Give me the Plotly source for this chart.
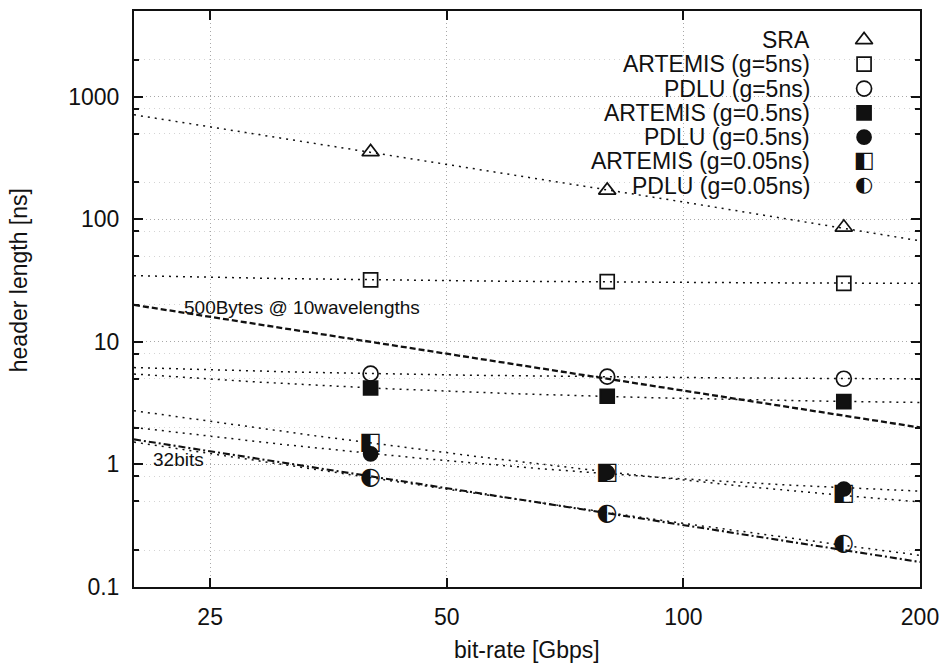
import numpy as np
import plotly.graph_objects as go

# ---------------- data ----------------
bitrate = [40, 80, 160]                     # Gbps
sra = [354, 172, 86]
artemis_g5 = [32, 31, 30]
pdlu_g5 = [5.5, 5.2, 5.0]
artemis_g05 = [4.2, 3.6, 3.25]
pdlu_g05 = [1.22, 0.86, 0.63]
artemis_g005 = [1.5, 0.85, 0.57]
pdlu_g005 = [0.78, 0.395, 0.225]

series_names = ["SRA", "ARTEMIS (g=5ns)", "PDLU (g=5ns)", "ARTEMIS (g=0.5ns)",
                "PDLU (g=0.5ns)", "ARTEMIS (g=0.05ns)", "PDLU (g=0.05ns)"]
series_values = [sra, artemis_g5, pdlu_g5, artemis_g05, pdlu_g05, artemis_g005, pdlu_g005]

ref_x = [20, 200]
ref_500bytes = [20, 2]      # 500Bytes @ 10wavelengths
ref_32bits = [1.6, 0.16]    # 32bits

x_range = [20, 200]
y_range = [0.1, 5000]
x_ticks = [25, 50, 100, 200]
y_ticks = [0.1, 1, 10, 100, 1000]
y_minor = [0.2, 0.5, 0.8, 2, 5, 8, 20, 50, 80, 200, 500, 800, 2000]

FONT = "Liberation Sans, Arial, sans-serif"
BLACK = "#111111"

# marker styles: (kind, symbol/text, size on plot, size in key)
styles = [
    ("marker", "triangle-up-open", 15, 15),
    ("marker", "square-open", 14, 14),
    ("marker", "circle-open", 15, 15),
    ("marker", "square", 14, 14),
    ("marker", "circle", 14, 14),
    ("text", "\u25e7", 24, 22),
    ("text", "\u25d0", 24, 21),
]

fig = go.Figure()

# fitted curves (least squares a + b/x on each series)
xs = np.geomspace(x_range[0], x_range[1], 120)
xarr = np.array(bitrate, dtype=float)
for vals in series_values:
    A = np.vstack([np.ones_like(xarr), 1.0 / xarr]).T
    coef, *_ = np.linalg.lstsq(A, np.array(vals, dtype=float), rcond=None)
    ys = coef[0] + coef[1] / xs
    fig.add_trace(go.Scatter(x=xs, y=ys, mode="lines", showlegend=False, hoverinfo="skip",
                             line=dict(color=BLACK, width=1.5, dash="2px,5px")))

# reference lines
fig.add_trace(go.Scatter(x=ref_x, y=ref_500bytes, mode="lines", showlegend=False,
                         line=dict(color=BLACK, width=2.3, dash="6px,3px")))
fig.add_trace(go.Scatter(x=ref_x, y=ref_32bits, mode="lines", showlegend=False,
                         line=dict(color=BLACK, width=2.1, dash="7px,3px,2px,3px")))

# data points
for name, vals, (kind, sym, size, _) in zip(series_names, series_values, styles):
    if kind == "marker":
        fig.add_trace(go.Scatter(x=bitrate, y=vals, mode="markers", name=name, showlegend=False,
                                 marker=dict(symbol=sym, size=size, color=BLACK,
                                             line=dict(color=BLACK, width=1.7))))
    else:
        fig.add_trace(go.Scatter(x=bitrate, y=vals, mode="text", name=name, showlegend=False,
                                 text=[sym] * len(vals), textposition="middle center",
                                 textfont=dict(family="DejaVu Sans", size=size, color=BLACK)))

# manual legend (text right-aligned, key symbols on the right) on an overlay axis
leg_top_px, leg_step_px = 38, 24.4
plot_top, plot_bottom, plot_left, plot_right = 9, 587, 134, 921
ph = plot_bottom - plot_top
pw = plot_right - plot_left
leg_y = [(plot_bottom - (leg_top_px + i * leg_step_px)) / ph for i in range(len(series_names))]
key_x = (865 - plot_left) / pw
text_x = (813 - plot_left) / pw
for i, (name, (kind, sym, _, ksize)) in enumerate(zip(series_names, styles)):
    if kind == "marker":
        fig.add_trace(go.Scatter(x=[key_x], y=[leg_y[i]], xaxis="x2", yaxis="y2", mode="markers",
                                 showlegend=False, hoverinfo="skip",
                                 marker=dict(symbol=sym, size=ksize, color=BLACK,
                                             line=dict(color=BLACK, width=1.7))))
    else:
        fig.add_trace(go.Scatter(x=[key_x], y=[leg_y[i]], xaxis="x2", yaxis="y2", mode="text",
                                 showlegend=False, hoverinfo="skip", text=[sym],
                                 textposition="middle center",
                                 textfont=dict(family="DejaVu Sans", size=ksize, color=BLACK)))
    fig.add_annotation(x=text_x, y=leg_y[i], xref="paper", yref="paper", text=name,
                       showarrow=False, xanchor="right", yanchor="middle",
                       font=dict(family=FONT, size=23, color=BLACK))

# line labels
fig.add_annotation(x=np.log10(23.0), y=np.log10(19.2), text="500Bytes @ 10wavelengths",
                   showarrow=False, xanchor="left", yanchor="middle",
                   font=dict(family=FONT, size=19, color=BLACK))
fig.add_annotation(x=np.log10(21.0), y=np.log10(1.1), text="32bits",
                   showarrow=False, xanchor="left", yanchor="middle",
                   font=dict(family=FONT, size=19, color=BLACK))

# axis titles
fig.add_annotation(x=0.5, y=(plot_bottom - 650) / ph, xref="paper", yref="paper",
                   text="bit-rate [Gbps]", showarrow=False, xanchor="center", yanchor="middle",
                   font=dict(family=FONT, size=23, color=BLACK))
fig.add_annotation(x=(19 - plot_left) / pw, y=(plot_bottom - 279) / ph, xref="paper", yref="paper",
                   text="header length [ns]", showarrow=False, textangle=-90,
                   xanchor="center", yanchor="middle",
                   font=dict(family=FONT, size=23, color=BLACK))

axis_common = dict(showline=True, linecolor=BLACK, linewidth=2, mirror="allticks",
                   ticks="inside", ticklen=9, tickwidth=1.5, tickcolor=BLACK,
                   showgrid=True, gridcolor="#a8a8a8", griddash="1px,3px", gridwidth=1,
                   zeroline=False, tickfont=dict(family=FONT, size=23, color=BLACK))

fig.update_layout(
    width=948, height=667,
    margin=dict(l=plot_left, r=948 - plot_right, t=plot_top, b=667 - plot_bottom),
    paper_bgcolor="white", plot_bgcolor="white",
    showlegend=False,
    xaxis=dict(type="log", range=[np.log10(x_range[0]), np.log10(x_range[1])],
               tickvals=x_ticks, ticktext=[str(v) for v in x_ticks],
               ticklabelstandoff=8, **axis_common),
    yaxis=dict(type="log", range=[np.log10(y_range[0]), np.log10(y_range[1])],
               tickvals=y_ticks, ticktext=[("%g" % v) for v in y_ticks],
               ticklabelstandoff=8,
               minor=dict(tickvals=y_minor, ticks="inside", ticklen=5, tickcolor=BLACK,
                          showgrid=True, gridcolor="#d4d4d4", griddash="1px,4px"),
               **axis_common),
    xaxis2=dict(overlaying="x", range=[0, 1], visible=False, fixedrange=True),
    yaxis2=dict(overlaying="y", range=[0, 1], visible=False, fixedrange=True),
)

fig.write_html("out.html", config={"displayModeBar": False},
               post_script="document.body.style.margin='0';document.body.style.overflow='hidden';")
